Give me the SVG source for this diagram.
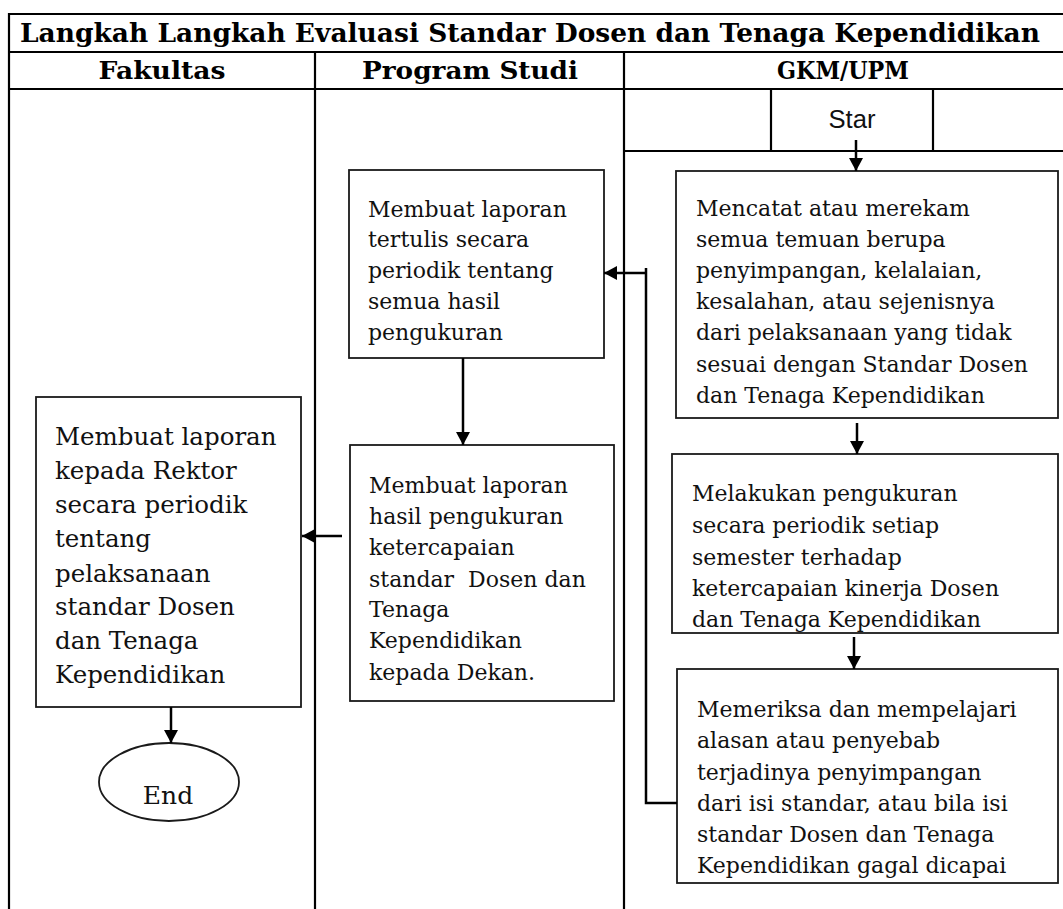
<svg xmlns="http://www.w3.org/2000/svg" width="1063" height="909" viewBox="0 0 1063 909">
<defs>
<style>
.grid{stroke:#000;stroke-width:2.2;fill:none}
.box{fill:#fff;stroke:#1a1a1a;stroke-width:1.8}
.txt{font-family:"DejaVu Serif","Liberation Serif",serif;font-size:22px;fill:#111}
.big{font-size:24.5px}
.endt{font-size:25px;text-anchor:middle}
.hdr{font-family:"DejaVu Serif","Liberation Serif",serif;font-weight:bold;fill:#000;text-anchor:middle}
.conn{stroke:#000;stroke-width:2.5;fill:none}
.star{font-family:"Liberation Sans",Arial,sans-serif;font-size:25.6px;fill:#111;text-anchor:middle}
</style>
<marker id="ah" markerUnits="userSpaceOnUse" markerWidth="13" markerHeight="14" refX="13" refY="7" orient="auto">
<path d="M0,0 L13,7 L0,14 z" fill="#000"/>
</marker>
</defs>
<rect width="1063" height="909" fill="#fff"/>
<g id="table">
<line class="grid" x1="8" y1="14" x2="1063" y2="14"/>
<line class="grid" x1="8" y1="52" x2="1063" y2="52"/>
<line class="grid" x1="8" y1="89" x2="1063" y2="89"/>
<line class="grid" x1="9" y1="13" x2="9" y2="909"/>
<line class="grid" x1="315" y1="52" x2="315" y2="909"/>
<line class="grid" x1="624" y1="52" x2="624" y2="909"/>
<line class="grid" x1="771" y1="89" x2="771" y2="151"/>
<line class="grid" x1="933" y1="89" x2="933" y2="151"/>
<line class="grid" x1="624" y1="151" x2="1063" y2="151"/>
<text class="hdr" x="530" y="42" font-size="26" textLength="1020" lengthAdjust="spacingAndGlyphs">Langkah Langkah Evaluasi Standar Dosen dan Tenaga Kependidikan</text>
<text class="hdr" x="162" y="79" font-size="24" textLength="127" lengthAdjust="spacingAndGlyphs">Fakultas</text>
<text class="hdr" x="470" y="79" font-size="24" textLength="216" lengthAdjust="spacingAndGlyphs">Program Studi</text>
<text class="hdr" x="843" y="79" font-size="24" textLength="132" lengthAdjust="spacingAndGlyphs">GKM/UPM</text>
</g>
<g id="start">
<text class="star" x="852" y="128">Star</text>
</g>
<g id="gkm1">
<rect class="box" x="676" y="171" width="382" height="247"/>
<text class="txt" x="696" y="216">Mencatat atau merekam</text>
<text class="txt" x="696" y="247">semua temuan berupa</text>
<text class="txt" x="696" y="278">penyimpangan, kelalaian,</text>
<text class="txt" x="696" y="309">kesalahan, atau sejenisnya</text>
<text class="txt" x="696" y="340">dari pelaksanaan yang tidak</text>
<text class="txt" x="696" y="372">sesuai dengan Standar Dosen</text>
<text class="txt" x="696" y="403">dan Tenaga Kependidikan</text>
</g>
<g id="gkm2">
<rect class="box" x="672" y="454" width="386" height="179"/>
<text class="txt" x="692" y="501">Melakukan pengukuran</text>
<text class="txt" x="692" y="533">secara periodik setiap</text>
<text class="txt" x="692" y="565">semester terhadap</text>
<text class="txt" x="692" y="596">ketercapaian kinerja Dosen</text>
<text class="txt" x="692" y="627">dan Tenaga Kependidikan</text>
</g>
<g id="gkm3">
<rect class="box" x="677" y="669" width="381" height="214"/>
<text class="txt" x="697" y="717">Memeriksa dan mempelajari</text>
<text class="txt" x="697" y="748">alasan atau penyebab</text>
<text class="txt" x="697" y="780">terjadinya penyimpangan</text>
<text class="txt" x="697" y="811">dari isi standar, atau bila isi</text>
<text class="txt" x="697" y="842">standar Dosen dan Tenaga</text>
<text class="txt" x="697" y="873">Kependidikan gagal dicapai</text>
</g>
<g id="prodi1">
<rect class="box" x="349" y="170" width="255" height="188"/>
<text class="txt" x="368" y="217">Membuat laporan</text>
<text class="txt" x="368" y="247">tertulis secara</text>
<text class="txt" x="368" y="278">periodik tentang</text>
<text class="txt" x="368" y="309">semua hasil</text>
<text class="txt" x="368" y="340">pengukuran</text>
</g>
<g id="prodi2">
<rect class="box" x="350" y="445" width="264" height="256"/>
<text class="txt" x="369" y="493">Membuat laporan</text>
<text class="txt" x="369" y="524">hasil pengukuran</text>
<text class="txt" x="369" y="555">ketercapaian</text>
<text class="txt" x="369" y="587">standar&#160; Dosen dan</text>
<text class="txt" x="369" y="617">Tenaga</text>
<text class="txt" x="369" y="648">Kependidikan</text>
<text class="txt" x="369" y="680">kepada Dekan.</text>
</g>
<g id="fakultas1">
<rect class="box" x="36" y="397" width="265" height="310"/>
<text class="txt big" x="55" y="445">Membuat laporan</text>
<text class="txt big" x="55" y="479">kepada Rektor</text>
<text class="txt big" x="55" y="513">secara periodik</text>
<text class="txt big" x="55" y="547">tentang</text>
<text class="txt big" x="55" y="582">pelaksanaan</text>
<text class="txt big" x="55" y="615">standar Dosen</text>
<text class="txt big" x="55" y="649">dan Tenaga</text>
<text class="txt big" x="55" y="683">Kependidikan</text>
</g>
<g id="end">
<ellipse class="box" cx="169" cy="782" rx="70" ry="39"/>
<text class="txt endt" x="168" y="804">End</text>
</g>
<g id="connectors">
<line class="conn" x1="856" y1="140" x2="856" y2="171" marker-end="url(#ah)"/>
<line class="conn" x1="857" y1="423" x2="857" y2="454" marker-end="url(#ah)"/>
<line class="conn" x1="854" y1="637" x2="854" y2="669" marker-end="url(#ah)"/>
<polyline class="conn" points="677,803 646,803 646,268"/>
<line class="conn" x1="647" y1="273" x2="604" y2="273" marker-end="url(#ah)"/>
<line class="conn" x1="463" y1="358" x2="463" y2="445" marker-end="url(#ah)"/>
<line class="conn" x1="342" y1="536" x2="302" y2="536" marker-end="url(#ah)"/>
<line class="conn" x1="171" y1="707" x2="171" y2="743" marker-end="url(#ah)"/>
</g>
</svg>
